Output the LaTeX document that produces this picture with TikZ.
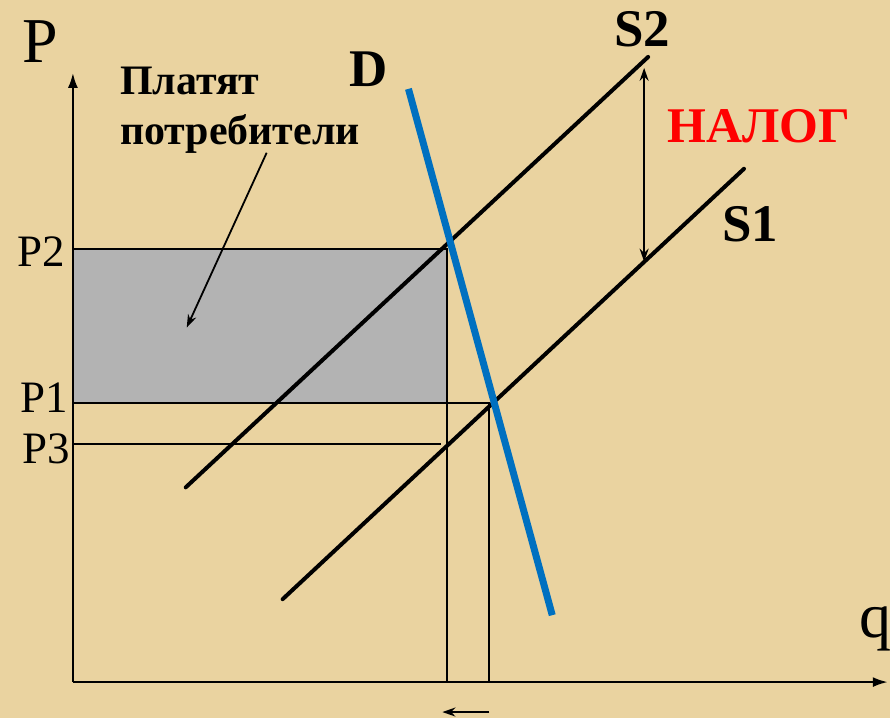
\documentclass[tikz,border=0pt]{standalone}
\usepackage{fontspec}
\setmainfont{Liberation Serif}
\usetikzlibrary{arrows.meta,positioning,calc}
\definecolor{parchment}{RGB}{234,211,160}
\definecolor{boxgray}{RGB}{179,179,179}
\definecolor{dblue}{RGB}{0,112,192}
\definecolor{taxred}{RGB}{255,0,0}

\begin{document}
\begin{tikzpicture}[x=1pt, y=-1pt,
    axis/.style={-{Latex[length=15pt,width=10pt]}, line width=2.2pt, black},
    guide/.style={line width=2pt, black},
    supply/.style={line width=4pt, black, line cap=round},
    demand/.style={line width=7pt, dblue},
    pointer/.style={-{Stealth[length=13pt,width=9pt]}, line width=1.8pt, black},
    lbl/.style={inner sep=0pt, anchor=base west},
    big/.style={lbl, font=\fontsize{64}{64}\selectfont},
    tick/.style={lbl, font=\fontsize{45}{45}\selectfont},
    curve/.style={lbl, font=\fontsize{53}{53}\selectfont\bfseries},
    note/.style={lbl, font=\fontsize{42}{50}\selectfont\bfseries},
]
% background
\fill[parchment] (0,0) rectangle (891,719);

% key points
\coordinate (O) at (73,683);
\coordinate (ytop) at (73,73);
\coordinate (xend) at (889,683);
\coordinate (p2) at (73,249);
\coordinate (p1) at (73,404);
\coordinate (p3) at (73,445);
\coordinate (e2) at (448,249);
\coordinate (e1) at (490,404);
\coordinate (e3) at (442,445);
\coordinate (q2) at (448,683);
\coordinate (q1) at (490,683);

% consumers' share of the tax
\fill[boxgray] (p2) rectangle (448,404);
\draw[guide] (p2) -- (e2) -- (q2);
\draw[guide] (p1) -- (e1) -- (q1);
\draw[guide] (p3) -- (e3);

% curves
\coordinate (s2a) at (186,488);
\coordinate (s2b) at (649,57);
\coordinate (s1a) at (283,600);
\coordinate (s1b) at (745,169);
\coordinate (da) at (409,89);
\coordinate (db) at (553,616);
\draw[supply] (s2a) -- (s2b);
\draw[supply] (s1a) -- (s1b);
\draw[demand] (da) -- (db);

% axes
\draw[axis] (O) -- (ytop);
\draw[axis] (O) -- (xend);

% labels
\node[big] (lp) at (22,63) {P};
\node[big] (lq) at (860,638) {q};
\node[tick] (lp2) at (17,267) {P2};
\node[tick] (lp1) at (20,413) {P1};
\node[tick] (lp3) at (22,464) {P3};
\node[curve] (ld) at (350,87) {D};
\node[curve] (ls2) at (615,47) {S2};
\node[curve] (ls1) at (723,242) {S1};
\node[curve, text=taxred, font=\fontsize{50}{50}\selectfont\bfseries] (ltax) at (668,143) {НАЛОГ};
\node[note] (lpay1) at (120,95) {Платят};
\node[note] (lpay2) at (120,145) {потребители};

% tax wedge and pointers
\coordinate (tt) at (645,68);
\coordinate (tb) at (645,262);
\draw[pointer, {Stealth[length=13pt,width=9pt]}-{Stealth[length=13pt,width=9pt]}] (tt) -- (tb);
\coordinate (pa) at (267,153);
\coordinate (pb) at (187,328);
\draw[pointer] (pa) -- (pb);
\coordinate (sa) at (490,713);
\coordinate (sb) at (443,713);
\draw[pointer] (sa) -- (sb);
\end{tikzpicture}
\end{document}
